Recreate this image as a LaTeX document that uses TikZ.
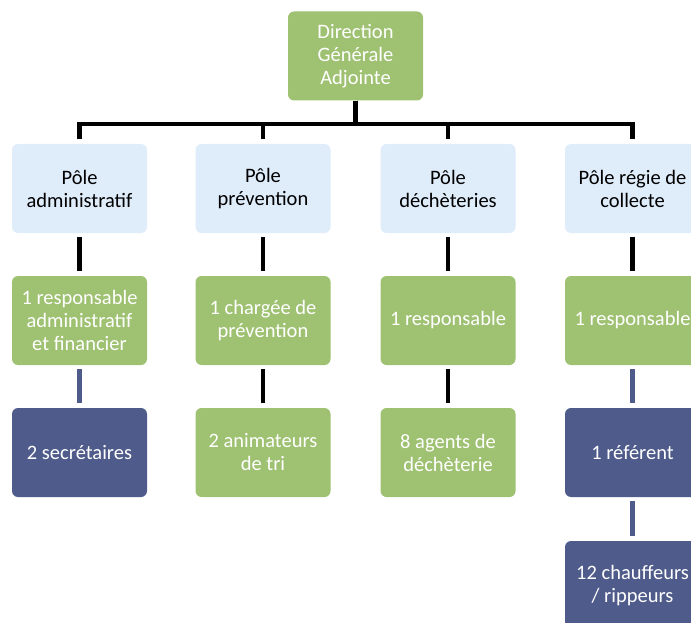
\documentclass[tikz,border=0pt]{standalone}
\usepackage{fontspec}
\setmainfont{Carlito}
\usepackage{tikz}
\usetikzlibrary{positioning, calc}
\definecolor{vertdga}{HTML}{9FC172}
\definecolor{bleupole}{HTML}{DFECFA}
\definecolor{ardoise}{HTML}{4F5B8A}

\begin{document}
\begin{tikzpicture}[x=1pt, y=-1pt,
  boite/.style={rectangle, rounded corners=6pt, minimum width=135pt, minimum height=89pt,
    align=center, font=\fontsize{20.5}{23}\selectfont},
  pole/.style={boite, fill=bleupole, text=black},
  poste/.style={boite, fill=vertdga, text=white},
  equipe/.style={boite, fill=ardoise, text=white},
  lien/.style={line width=4.5pt, draw=black},
  lienbleu/.style={line width=4.5pt, draw=ardoise}
]
  \useasboundingbox (0,0) rectangle (691,623);
  \clip (0,0) rectangle (691,623);

  % direction
  \node[poste] (dga) at (355.5, 56) {Direction\\Générale\\Adjointe};

  % poles
  \node[pole] (p1) at (79.5, 188.5) {Pôle\\administratif};
  \node[pole] (p2) at (263, 188.5) {Pôle\\prévention};
  \node[pole] (p3) at (448, 188.5) {Pôle\\déchèteries};
  \node[pole] (p4) at (632.5, 188.5) {Pôle régie de\\collecte};

  \node[poste] (r1) at (79.5, 320.5) {1 responsable\\administratif\\et financier};
  \node[poste] (r2) at (263, 320.5) {1 chargée de\\prévention};
  \node[poste] (r3) at (448, 320.5) {1 responsable};
  \node[poste] (r4) at (632.5, 320.5) {1 responsable};

  \node[equipe] (e1) at (79.5, 452.5) {2 secrétaires};
  \node[poste] (e2) at (263, 452.5) {2 animateurs\\de tri};
  \node[poste] (e3) at (448, 452.5) {8 agents de\\déchèterie};
  \node[equipe] (e4) at (632.5, 452.5) {1 référent};

  \node[equipe] (c4) at (632.5, 585.5) {12 chauffeurs\\/ rippeurs};

  % connecteurs
  \coordinate (bus) at (355.5, 124);
  \foreach \p in {p1, p2, p3, p4}
    \draw[lien, shorten >=5pt] (dga.south) -- (dga.south |- bus) -| (\p.north);
  \foreach \a/\b in {p1/r1, p2/r2, p3/r3, p4/r4, r2/e2, r3/e3}
    \draw[lien, shorten <=4pt, shorten >=5pt] (\a) -- (\b);
  \foreach \a/\b in {r1/e1, r4/e4, e4/c4}
    \draw[lienbleu, shorten <=4pt, shorten >=5pt] (\a) -- (\b);
\end{tikzpicture}
\end{document}
